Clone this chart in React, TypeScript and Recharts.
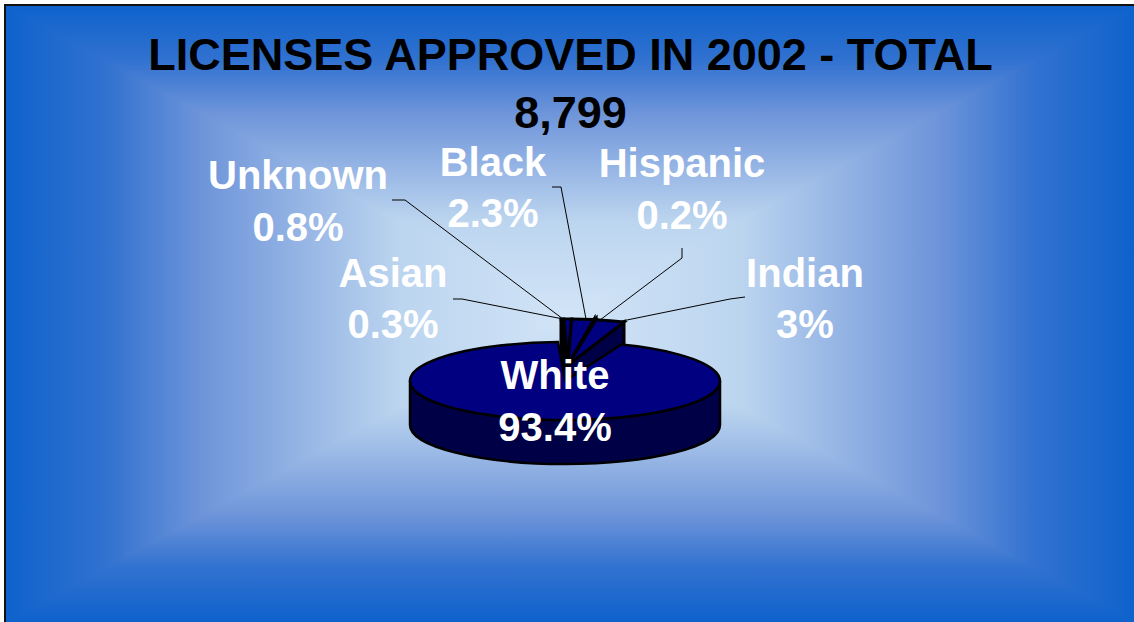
import React from "react";
import { PieChart, Pie } from "recharts";

// share of licenses, in pie order (clockwise from the top)
const races = ["Asian", "Unknown", "Black", "Hispanic", "Indian", "White"];
const shares = [0.3, 0.8, 2.3, 0.2, 3, 93.4];
const shareLabels = ["0.3%", "0.8%", "2.3%", "0.2%", "3%", "93.4%"];
const titleLines = ["LICENSES APPROVED IN 2002 - TOTAL", "8,799"];

const data = races.map((name, i) => ({ name, value: shares[i] }));

const WIDTH = 1134;
const HEIGHT = 622;
const PIE_CX = 565;
const PIE_CY = 381;
const PIE_R = 155;
const TILT = 39 / 155; // squash of the 3d ellipse
const TILT_EXPLODED = 46 / 155; // pulled out slices read a bit taller
const DEPTH = 44;
const EXPLODE_X = 3;
const EXPLODE_Y = -16;
const FONT = '"Liberation Sans", Arial, sans-serif';

// label placement: [center x, name baseline, value baseline]
const labelPos = [
  [393, 287, 338],
  [298, 189, 241],
  [493, 176, 227],
  [682, 177, 229],
  [805, 287, 338],
  [555, 389, 441],
];

// leader lines, label end -> slice end
const leaderLines = [
  "453,299 462,299 563,319",
  "392,200 405,200 563,319",
  "552,187 561,187 586,319",
  "682,248 682,258 600,320",
  "745,297 730,299 622,321",
  "",
];

// rectangular "from center" fill: one side-to-side layer, top and bottom triangles over it
const BG_STOPS = "#0e62cc 0%, #3272d0 18%, #6f95da 35%, #bcd5ef 70%, #d2e4f7 100%";
const BG_X = 6;
const BG_Y = 6;
const BG_W = WIDTH - BG_X;
const BG_H = HEIGHT - BG_Y;

function Background() {
  return (
    <div
      style={{
        position: "absolute",
        left: BG_X,
        top: BG_Y,
        width: BG_W,
        height: BG_H,
        backgroundImage: `linear-gradient(to right, ${BG_STOPS}), linear-gradient(to left, ${BG_STOPS})`,
        backgroundSize: "50% 100%",
        backgroundPosition: "left, right",
        backgroundRepeat: "no-repeat",
      }}
    >
      <div
        style={{
          position: "absolute",
          inset: 0,
          clipPath: "polygon(0 0, 100% 0, 50% 50%, 100% 100%, 0 100%, 50% 50%)",
          backgroundImage: `linear-gradient(to bottom, ${BG_STOPS}), linear-gradient(to top, ${BG_STOPS})`,
          backgroundSize: "100% 50%",
          backgroundPosition: "top, bottom",
          backgroundRepeat: "no-repeat",
        }}
      />
    </div>
  );
}

// one slice of the tilted pie: walls first, then the top face
function Slice3D(props: any) {
  const { cx, cy, outerRadius, startAngle, endAngle, name } = props;
  const exploded = name !== "White";
  const ox = cx + (exploded ? EXPLODE_X : 0);
  const oy = cy + (exploded ? EXPLODE_Y : 0);
  const ry = outerRadius * (exploded ? TILT_EXPLODED : TILT);
  const pt = (deg: number, drop = 0) => {
    const a = (deg * Math.PI) / 180;
    const x = ox + outerRadius * Math.cos(a);
    const y = oy - ry * Math.sin(a) + drop;
    return `${x.toFixed(1)},${y.toFixed(1)}`;
  };
  const arc = (from: number, to: number, drop = 0) => {
    const sweep = to < from ? 1 : 0;
    const big = Math.abs(to - from) > 180 ? 1 : 0;
    return `A${outerRadius},${ry} 0 ${big} ${sweep} ${pt(to, drop)}`;
  };
  const apex = `${ox},${oy}`;
  const apexLow = `${ox},${oy + DEPTH}`;

  // only the front half of the rim can be seen
  const lo = Math.max(endAngle, -180);
  const hi = Math.min(startAngle, 0);
  const hasRim = hi > lo;

  return (
    <g stroke="#000" strokeWidth={exploded ? 3 : 2.5} strokeLinejoin="miter">
      {!hasRim && (
        <>
          <polygon
            points={`${pt(startAngle)} ${pt(startAngle, DEPTH)} ${apexLow} ${apex}`}
            fill="#000046"
          />
          <polygon
            points={`${pt(endAngle)} ${pt(endAngle, DEPTH)} ${apexLow} ${apex}`}
            fill="#000046"
          />
        </>
      )}
      {hasRim && (
        <path
          d={`M${pt(hi)} ${arc(hi, lo)} L${pt(lo, DEPTH)} A${outerRadius},${ry} 0 0 0 ${pt(hi, DEPTH)} Z`}
          fill="#000046"
        />
      )}
      <path
        d={`M${apex} L${pt(startAngle)} ${arc(startAngle, endAngle)} Z`}
        fill="#000080"
      />
    </g>
  );
}

function renderLabel(props: any) {
  const { index } = props;
  const [x, y1, y2] = labelPos[index];
  return (
    <text
      key={races[index]}
      textAnchor="middle"
      fill="#fff"
      fontFamily={FONT}
      fontWeight="bold"
      fontSize={40}
    >
      <tspan x={x} y={y1}>
        {races[index]}
      </tspan>
      <tspan x={x} y={y2}>
        {shareLabels[index]}
      </tspan>
    </text>
  );
}

function renderLeader(props: any) {
  const points = leaderLines[props.index];
  if (!points) return <g key="none" />;
  return (
    <polyline
      key={races[props.index]}
      points={points}
      fill="none"
      stroke="#000"
      strokeWidth={1}
    />
  );
}

export default function App() {
  return (
    <div
      style={{
        position: "absolute",
        left: 0,
        top: 0,
        width: WIDTH,
        height: HEIGHT,
        overflow: "hidden",
        background: "#fff",
      }}
    >
      <Background />
      <div
        style={{
          position: "absolute",
          left: 4,
          top: 4,
          width: WIDTH,
          height: HEIGHT,
          borderLeft: "2px solid #111",
          borderTop: "2px solid #111",
        }}
      />
      {titleLines.map((line, i) => (
        <div
          key={line}
          style={{
            position: "absolute",
            left: 0,
            width: 1141,
            top: 30 + i * 58,
            lineHeight: "50px",
            textAlign: "center",
            fontFamily: FONT,
            fontWeight: "bold",
            fontSize: 45,
            color: "#000",
          }}
        >
          {line}
        </div>
      ))}
      <div style={{ position: "absolute", left: 0, top: 0 }}>
        <PieChart
          width={WIDTH}
          height={HEIGHT}
          margin={{ top: 0, right: 0, bottom: 0, left: 0 }}
        >
          <Pie
            data={data}
            dataKey="value"
            nameKey="name"
            cx={PIE_CX}
            cy={PIE_CY}
            innerRadius={0}
            outerRadius={PIE_R}
            startAngle={92.6}
            endAngle={-267.4}
            paddingAngle={0}
            shape={Slice3D}
            label={renderLabel}
            labelLine={renderLeader}
            isAnimationActive={false}
          />
        </PieChart>
      </div>
    </div>
  );
}
